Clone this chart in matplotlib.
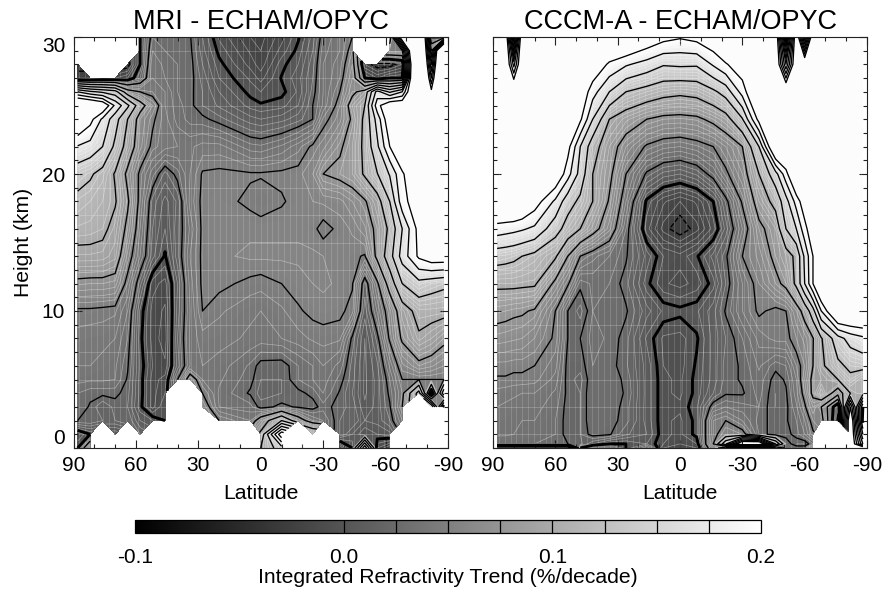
import numpy as np
import matplotlib
matplotlib.use('Agg')
import matplotlib.pyplot as plt
from matplotlib.cm import ScalarMappable
from matplotlib.colors import Normalize
from matplotlib.ticker import MultipleLocator

plt.rcParams['font.family'] = ['Liberation Sans', 'DejaVu Sans']
plt.rcParams['axes.unicode_minus'] = False
N = np.nan

# MRI - ECHAM/OPYC, trend values (rows = heights, columns = latitudes)
mri_lat = [88, 82, 76, 70, 64, 58, 52, 46, 40, 34, 28, 20, 5, 0, -10, -18, -25, -30, -38, -44, -50, -56, -62, -68, -76, -82, -88]
mri_z = [0, 1, 2, 3, 4, 5, 6, 8, 10, 12, 14, 16, 18, 20, 22, 24, 25, 26, 27, 28, 29, 30]
mri_trend = [
    [.0, .05, N, N, -.03, N, N, N, N, N, N, N, N, .1, .14, N, -.01, N, -.02, .0, .12, -.01, -.02, N, N, N, N],
    [-.01, .0, N, .0, N, .02, N, N, N, N, N, N, N, .08, .22, N, .1, N, .02, .01, .0, .005, .008, N, N, N, N],
    [.025, .025, .02, .02, .025, .01, .005, .0, N, N, N, .05, .04, .06, .1, .06, .04, .035, .02, .02, .01, .012, .02, .04, N, N, N],
    [.03, .024, .015, .022, .02, .002, -.012, .0, N, N, .06, .035, .032, .022, .027, .024, .022, .028, .022, .018, .006, .012, .024, .05, N, .15, -.02],
    [.03, .027, .027, .027, .022, .003, -.012, -.005, N, N, .05, .034, .024, .018, .02, .023, .027, .035, .024, .015, .004, .012, .027, .045, .11, -.02, .12],
    [.037, .036, .036, .035, .024, .003, -.012, -.008, .025, .06, .04, .036, .027, .02, .02, .03, .035, .038, .028, .017, .004, .012, .03, .05, .05, .05, .05],
    [.04, .04, .038, .036, .026, .004, -.01, -.014, .012, .035, .04, .038, .029, .022, .021, .03, .035, .04, .033, .018, .004, .014, .036, .058, .07, .066, .06],
    [.043, .042, .042, .04, .03, .002, -.012, -.018, .015, .036, .043, .042, .039, .038, .04, .043, .046, .047, .046, .023, .005, .022, .052, .078, .097, .09, .08],
    [.048, .048, .047, .046, .035, .004, -.012, -.016, .012, .035, .05, .046, .041, .04, .044, .049, .052, .053, .052, .047, .012, .036, .058, .088, .108, .108, .107],
    [.071, .07, .07, .068, .045, .017, -.008, -.012, .01, .037, .052, .052, .048, .047, .05, .053, .055, .056, .054, .051, .018, .047, .085, .125, .142, .135, .13],
    [.094, .094, .093, .087, .058, .035, .012, -.001, .018, .04, .052, .054, .056, .056, .056, .056, .056, .055, .054, .052, .049, .08, .115, .16, .205, .22, .22],
    [.109, .108, .105, .093, .07, .04, .015, .005, .018, .036, .052, .054, .054, .054, .054, .054, .052, .047, .052, .056, .064, .08, .105, .15, .21, .22, .22],
    [.119, .115, .11, .102, .078, .045, .018, .008, .016, .042, .052, .053, .048, .045, .049, .053, .055, .056, .058, .065, .073, .09, .125, .19, .22, .22, .22],
    [.135, .128, .117, .098, .07, .047, .032, .018, .028, .04, .051, .052, .051, .051, .052, .053, .06, .075, .08, .085, .103, .124, .152, .197, .225, .225, .225],
    [.173, .165, .15, .12, .09, .062, .047, .042, .04, .039, .042, .042, .032, .031, .036, .043, .052, .058, .072, .085, .105, .145, .2, .225, .225, .225, .225],
    [.24, .21, .17, .135, .1, .065, .052, .042, .033, .028, .027, .022, .012, .01, .013, .018, .025, .046, .058, .078, .105, .16, .225, .235, .235, .235, .235],
    [.26, .25, .23, .17, .13, .085, .06, .04, .032, .027, .02, .014, .003, .001, .003, .01, .025, .036, .055, .085, .1, .19, .23, .23, .26, .23, .23],
    [.15, .13, .12, .11, .06, .05, .045, .04, .03, .027, .02, .01, -.002, -.005, -.002, .006, .022, .035, .05, .07, .085, .16, .12, .15, .3, .21, .3],
    [-.02, -.02, -.015, -.015, -.01, .01, .04, .035, .03, .028, .018, .005, -.006, -.012, .0005, .008, .02, .035, .045, .065, .0, -.01, .0, .0, .4, .15, .4],
    [-.03, N, N, N, -.03, .0, .04, .033, .03, .028, .015, .002, -.012, -.018, -.002, .005, .018, .035, .043, .06, -.02, -.03, -.03, -.02, .4, .1, .4],
    [N, N, N, N, N, .0, .035, .03, .03, .027, .012, -.002, -.016, -.02, -.008, .002, .015, .033, .04, .055, N, N, .05, .05, .4, .05, .4],
    [N, N, N, N, N, .0, .03, .03, .03, .026, .01, -.006, -.02, -.022, -.012, -.001, .012, .03, .04, .05, N, N, .0, .25, .4, .0, .0],
]

# CCCM-A - ECHAM/OPYC, right panel
cccm_lat = [88, 84, 80, 76, 70, 60, 54, 48, 42, 34, 26, 16, 8, 0, -8, -16, -22, -30, -38, -46, -51, -56, -60, -64, -68, -76, -82, -88]
cccm_z = [0, .3, 1, 2, 3, 4, 5, 6, 8, 10, 12, 14, 16, 18, 20, 22, 24, 26, 28, 30]
cccm_trend = [
    [.25, .25, .25, .25, .25, .25, .25, .0, -.02, -.02, .0, .02, -.01, -.01, -.01, .04, .0, -.01, -.01, .0, .03, .03, .03, .05, N, N, .25, .25],
    [.03, .03, .03, .03, .03, .03, .025, .022, .01, .0, .0, .005, -.005, -.01, -.005, .05, .12, .25, .25, .1, .03, .02, .02, .03, N, N, .25, .1],
    [.036, .036, .035, .034, .034, .03, .022, .02, .028, .026, .016, .01, -.004, -.006, .002, .045, .06, .055, .03, .02, .022, .028, .035, .048, N, N, .25, .05],
    [.038, .037, .036, .035, .035, .03, .022, .02, .03, .028, .022, .008, -.004, -.006, .002, .045, .05, .04, .028, .022, .024, .03, .04, .055, .06, -.03, .25, -.01],
    [.04, .039, .038, .037, .037, .032, .022, .02, .03, .03, .022, .008, -.004, -.004, .004, .03, .035, .032, .03, .02, .023, .034, .048, .065, .05, -.02, .2, .0],
    [.043, .042, .041, .04, .04, .034, .023, .02, .03, .03, .024, .008, -.004, -.006, .002, .015, .024, .024, .032, .02, .024, .038, .055, .08, .1, .06, .1, .11],
    [.049, .049, .048, .048, .047, .038, .022, .018, .03, .03, .023, .008, -.004, -.006, .002, .012, .022, .026, .033, .022, .026, .04, .06, .08, .085, .1, .12, .105],
    [.053, .053, .052, .052, .05, .042, .022, .022, .03, .028, .021, .008, -.005, -.007, .001, .012, .022, .026, .036, .027, .03, .045, .055, .075, .095, .12, .13, .133],
    [.068, .067, .066, .065, .06, .048, .025, .025, .032, .029, .022, .004, -.006, -.007, -.001, .012, .02, .03, .042, .047, .047, .055, .062, .074, .098, .14, .16, .17],
    [.081, .08, .078, .077, .073, .05, .025, .018, .03, .03, .026, .012, .004, .002, .004, .013, .026, .04, .052, .047, .05, .065, .083, .115, .175, .25, .25, .25],
    [.105, .105, .105, .104, .103, .07, .052, .027, .031, .03, .022, .002, -.009, -.012, -.008, .003, .02, .04, .055, .07, .08, .105, .15, .2, .25, .25, .25, .25],
    [.135, .133, .13, .125, .118, .103, .075, .05, .042, .035, .026, .008, -.005, -.008, -.001, .012, .023, .05, .062, .08, .09, .105, .155, .2, .25, .25, .25, .25],
    [.188, .185, .182, .178, .17, .135, .115, .1, .083, .062, .03, -.008, -.022, -.03, -.022, -.008, .012, .04, .07, .085, .125, .15, .19, .225, .25, .25, .25, .25],
    [.25, .25, .25, .24, .215, .17, .135, .12, .1, .073, .04, -.002, -.014, -.02, -.014, .0, .021, .052, .085, .108, .14, .185, .22, .25, .25, .25, .25, .25],
    [.25, .25, .25, .25, .25, .23, .185, .14, .1, .08, .05, .023, .013, .01, .016, .03, .047, .065, .1, .14, .19, .25, .25, .25, .25, .25, .25, .25],
    [.25, .25, .25, .25, .25, .25, .21, .15, .11, .085, .065, .048, .042, .04, .044, .05, .06, .075, .125, .25, .25, .25, .25, .25, .25, .25, .25, .25],
    [.25, .25, .25, .25, .25, .25, .25, .205, .15, .1, .087, .075, .07, .069, .071, .08, .09, .123, .21, .25, .25, .25, .25, .25, .25, .25, .25, .25],
    [.25, .25, .25, .25, .25, .25, .25, .225, .185, .15, .125, .115, .108, .105, .108, .12, .135, .185, .25, .25, .25, .25, .25, .25, .25, .25, .25, .25],
    [.25, .25, .14, .25, .25, .25, .25, .25, .225, .195, .178, .165, .152, .154, .153, .178, .197, .22, .25, .25, .1, .25, .25, .25, .25, .25, .25, .25],
    [.25, .25, .0, .25, .25, .25, .25, .25, .25, .25, .25, .225, .21, .203, .21, .225, .25, .25, .25, .25, -.02, .25, .05, .25, .25, .25, .25, .25],
]

lat_ticks = [90, 60, 30, 0, -30, -60, -90]
height_ticks = [0, 10, 20, 30]
bar_ticks = [-0.1, 0.0, 0.1, 0.2]

W, H = 884, 590
cmap = plt.get_cmap('gray').copy()
cmap.set_over('#fcfcfc')
cmap.set_under('black')
norm = Normalize(-0.1, 0.2)

fill_levels = np.linspace(-0.1, 0.2, 121)
line_levels = np.round(np.arange(-0.1, 0.2001, 0.025), 3)
fine_levels = [v for v in np.round(np.arange(-0.1, 0.2, 0.005), 3) if round(v / 0.005) % 5 != 0]


def panel(x0, x1, lat, z, trend, title):
    ax = plt.axes([x0 / W, 1 - 448 / H, (x1 - x0) / W, 411 / H])
    trend = np.array(trend, dtype=float)
    ax.contourf(lat, z, trend, levels=fill_levels, cmap=cmap, norm=norm, extend='both')

    # faint lines of the model grid, only seen on the darker parts
    ax.vlines(np.arange(-87.1875, 88, 2.8125), 0, 30, color='white', lw=0.6, alpha=0.18)
    ax.hlines(np.arange(1, 30, 2), -88, 88, color='white', lw=0.6, alpha=0.24)

    ax.contour(lat, z, trend, levels=fine_levels, colors='white', linewidths=0.5, linestyles='solid', alpha=0.4)
    styles = ['dashed' if v < 0 else 'solid' for v in line_levels]
    widths = [2.1 if v == 0 else 0.95 for v in line_levels]
    ax.contour(lat, z, trend, levels=line_levels, colors='black', linewidths=widths, linestyles=styles)

    ax.set_xlim(90, -90)
    ax.set_ylim(0, 30)
    ax.set_xticks(lat_ticks)
    ax.set_yticks(height_ticks)
    ax.xaxis.set_minor_locator(MultipleLocator(10))
    ax.yaxis.set_minor_locator(MultipleLocator(1))
    ax.tick_params(which='major', direction='in', length=6, width=0.8, top=True, right=True, labelsize=15, pad=6, color='#222222')
    ax.tick_params(which='minor', direction='in', length=3, width=0.8, top=True, right=True, color='#222222')
    ax.set_title(title, fontsize=19.5, pad=6)
    ax.set_xlabel('Latitude', fontsize=15.2, labelpad=6)
    for s in ax.spines.values():
        s.set_linewidth(0.8)
        s.set_color('#222222')
    return ax


ax1 = panel(73.5, 448, mri_lat, mri_z, mri_trend, 'MRI - ECHAM/OPYC')
ax1.set_ylabel('Height (km)', fontsize=15.2, labelpad=6)
labels = ax1.get_yticklabels()
labels[0].set_va('bottom')
labels[-1].set_va('top')

ax2 = panel(493, 867, cccm_lat, cccm_z, cccm_trend, 'CCCM-A - ECHAM/OPYC')
ax2.set_yticklabels([])

# colour bar
cax = plt.axes([135 / W, 1 - 533 / H, 626 / W, 13 / H])
cb = plt.colorbar(ScalarMappable(norm=norm, cmap=cmap), cax=cax, orientation='horizontal', ticks=bar_ticks)
cb.ax.set_xticklabels(['-0.1', '0.0', '0.1', '0.2'])
cb.ax.tick_params(length=0, labelsize=15, pad=10.5)
cb.ax.xaxis.set_minor_locator(plt.NullLocator())
cb.outline.set_linewidth(0.9)
cb.ax.vlines(np.arange(0.0, 0.2, 0.025), -0.1, 1.1, color='black', lw=0.9)
cb.set_label('Integrated Refractivity Trend (%/decade)', fontsize=15.2, labelpad=1)

plt.gcf().set_size_inches(W / 100, H / 100)
plt.savefig('out.png', dpi=100)
plt.close()
